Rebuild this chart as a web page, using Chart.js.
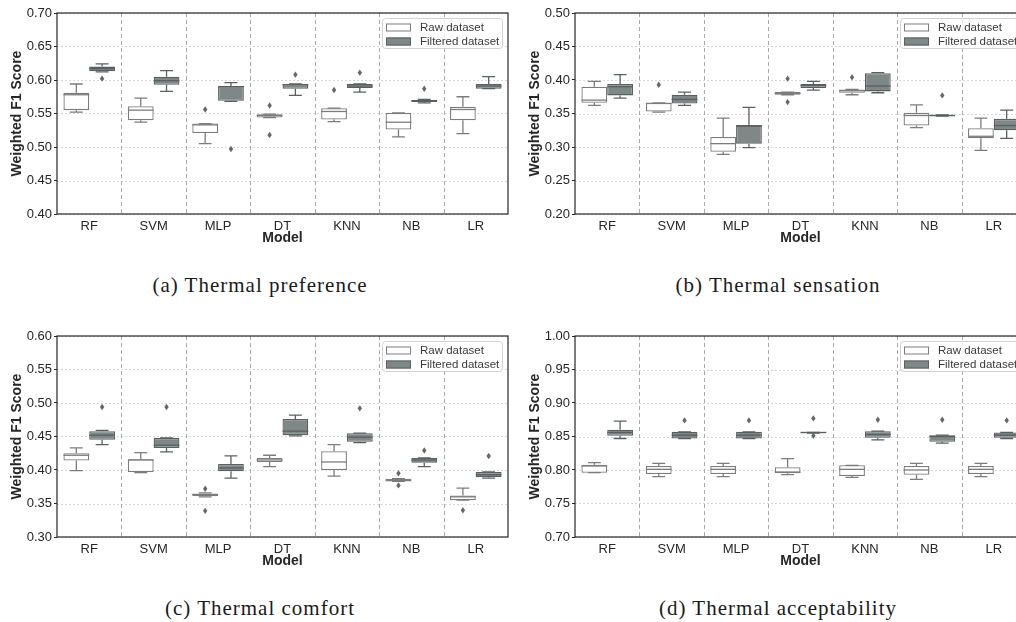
<!DOCTYPE html>
<html>
<head>
<meta charset="utf-8">
<title>Weighted F1 score by model</title>
<script src="https://cdn.jsdelivr.net/npm/chart.js@4.4.0/dist/chart.umd.min.js"></script>
<style>
  html, body { margin: 0; padding: 0; background: #fff; overflow: hidden; }
  body { width: 1016px; height: 622px; position: relative; }
  .panel { position: absolute; width: 520px; height: 250px; }
  .panel canvas { display: block; }
  .caption {
    position: absolute; width: 520px; text-align: center;
    font-family: 'Liberation Serif', 'Times New Roman', serif;
    font-size: 21px; line-height: 24px; letter-spacing: 1px; color: #1a1a1a;
  }
</style>
</head>
<body>
<div class="panel" style="left:0;top:0"><canvas id="pref" width="520" height="250"></canvas></div>
<div class="panel" style="left:518px;top:0"><canvas id="sens" width="520" height="250"></canvas></div>
<div class="panel" style="left:0;top:323px"><canvas id="comf" width="520" height="250"></canvas></div>
<div class="panel" style="left:518px;top:323px"><canvas id="acc" width="520" height="250"></canvas></div>
<div class="caption" style="left:0;top:273px">(a) Thermal preference</div>
<div class="caption" style="left:518px;top:273px">(b) Thermal sensation</div>
<div class="caption" style="left:0;top:596px">(c) Thermal comfort</div>
<div class="caption" style="left:518px;top:596px">(d) Thermal acceptability</div>
<script>
const models = ["RF", "SVM", "MLP", "DT", "KNN", "NB", "LR"];

// each box: [lower whisker, Q1, median, Q3, upper whisker]
const prefTicks = [0.40, 0.45, 0.50, 0.55, 0.60, 0.65, 0.70];
const prefRaw = [
  [0.552, 0.555, 0.578, 0.581, 0.594],
  [0.537, 0.540, 0.555, 0.561, 0.573],
  [0.505, 0.521, 0.533, 0.535, 0.535],
  [0.544, 0.544, 0.547, 0.549, 0.549],
  [0.538, 0.541, 0.553, 0.558, 0.558],
  [0.515, 0.526, 0.537, 0.551, 0.551],
  [0.520, 0.540, 0.556, 0.560, 0.575]
];
const prefRawOut = [[], [], [0.556], [0.562, 0.518], [0.585], [], []];
const prefFilt = [
  [0.612, 0.613, 0.617, 0.620, 0.624],
  [0.583, 0.593, 0.599, 0.605, 0.614],
  [0.568, 0.569, 0.590, 0.591, 0.596],
  [0.577, 0.587, 0.593, 0.594, 0.594],
  [0.582, 0.588, 0.591, 0.594, 0.594],
  [0.566, 0.567, 0.569, 0.570, 0.571],
  [0.587, 0.587, 0.591, 0.594, 0.605]
];
const prefFiltOut = [[0.602], [], [0.497], [0.608], [0.611], [0.587], []];

const sensTicks = [0.20, 0.25, 0.30, 0.35, 0.40, 0.45, 0.50];
const sensRaw = [
  [0.362, 0.366, 0.370, 0.390, 0.398],
  [0.352, 0.353, 0.365, 0.366, 0.366],
  [0.289, 0.293, 0.305, 0.315, 0.343],
  [0.378, 0.378, 0.380, 0.382, 0.382],
  [0.378, 0.381, 0.384, 0.386, 0.386],
  [0.329, 0.332, 0.347, 0.351, 0.363],
  [0.295, 0.313, 0.316, 0.328, 0.343]
];
const sensRawOut = [[], [0.393], [], [0.402, 0.367], [0.404], [], []];
const sensFilt = [
  [0.373, 0.377, 0.390, 0.394, 0.408],
  [0.362, 0.365, 0.371, 0.378, 0.382],
  [0.299, 0.305, 0.331, 0.333, 0.359],
  [0.385, 0.388, 0.392, 0.394, 0.398],
  [0.381, 0.383, 0.391, 0.410, 0.411],
  [0.346, 0.346, 0.347, 0.348, 0.348],
  [0.313, 0.325, 0.332, 0.342, 0.355]
];
const sensFiltOut = [[], [], [], [], [], [0.377], []];

const comfTicks = [0.30, 0.35, 0.40, 0.45, 0.50, 0.55, 0.60];
const comfRaw = [
  [0.399, 0.414, 0.422, 0.425, 0.433],
  [0.396, 0.397, 0.415, 0.416, 0.426],
  [0.360, 0.361, 0.363, 0.365, 0.366],
  [0.405, 0.412, 0.415, 0.418, 0.422],
  [0.391, 0.400, 0.412, 0.428, 0.438],
  [0.383, 0.383, 0.385, 0.387, 0.387],
  [0.355, 0.355, 0.360, 0.362, 0.373]
];
const comfRawOut = [[], [], [0.372, 0.339], [], [], [0.395, 0.377], [0.340]];
const comfFilt = [
  [0.438, 0.445, 0.452, 0.458, 0.459],
  [0.427, 0.433, 0.437, 0.448, 0.448],
  [0.388, 0.398, 0.403, 0.409, 0.421],
  [0.451, 0.452, 0.458, 0.476, 0.482],
  [0.441, 0.442, 0.449, 0.455, 0.455],
  [0.405, 0.411, 0.415, 0.418, 0.418],
  [0.388, 0.389, 0.393, 0.397, 0.397]
];
const comfFiltOut = [[0.494], [0.494], [], [], [0.492], [0.429], [0.421]];

const accTicks = [0.70, 0.75, 0.80, 0.85, 0.90, 0.95, 1.00];
const accRaw = [
  [0.796, 0.796, 0.806, 0.808, 0.811],
  [0.790, 0.794, 0.801, 0.806, 0.810],
  [0.790, 0.794, 0.801, 0.806, 0.810],
  [0.793, 0.795, 0.797, 0.804, 0.817],
  [0.789, 0.791, 0.801, 0.807, 0.807],
  [0.786, 0.793, 0.800, 0.806, 0.810],
  [0.790, 0.794, 0.801, 0.806, 0.810]
];
const accRawOut = [[], [], [], [], [], [], []];
const accFilt = [
  [0.847, 0.851, 0.856, 0.860, 0.873],
  [0.847, 0.847, 0.852, 0.857, 0.857],
  [0.847, 0.847, 0.852, 0.857, 0.857],
  [0.855, 0.855, 0.856, 0.856, 0.856],
  [0.845, 0.848, 0.853, 0.858, 0.858],
  [0.840, 0.842, 0.850, 0.852, 0.852],
  [0.847, 0.848, 0.852, 0.856, 0.856]
];
const accFiltOut = [[], [0.874], [0.874], [0.877, 0.851], [0.875], [0.875], [0.874]];

const rawFill = "#ffffff", rawLine = "#7c7c7c";
const filtFill = "#7f8787", filtLine = "#5a6060";
const outlierColor = "#636969";
const inkColor = "#262626";

Chart.defaults.font.family = "'Liberation Sans', Arial, sans-serif";
Chart.defaults.color = inkColor;

// whiskers, medians, outliers, grid, frame and legend on top of the floating bars
const boxParts = {
  id: "boxParts",
  beforeDatasetsDraw(chart) {
    const { ctx, chartArea: a, scales: { x, y } } = chart;
    ctx.save();
    ctx.lineWidth = 0.8;
    ctx.strokeStyle = "#cfcfcf";
    ctx.setLineDash([2, 2]);
    y.ticks.forEach(t => {
      const py = Math.round(y.getPixelForValue(t.value)) + 0.5;
      ctx.beginPath(); ctx.moveTo(a.left, py); ctx.lineTo(a.right, py); ctx.stroke();
    });
    ctx.lineWidth = 1;
    ctx.strokeStyle = "#a9a9a9";
    ctx.setLineDash([4, 3]);
    for (let k = 1; k < models.length; k++) {
      const px = Math.round((x.getPixelForValue(k - 1) + x.getPixelForValue(k)) / 2) + 0.5;
      ctx.beginPath(); ctx.moveTo(px, a.top); ctx.lineTo(px, a.bottom); ctx.stroke();
    }
    ctx.setLineDash([]);
    ctx.lineWidth = 1.3;
    chart.data.datasets.forEach((ds, i) => {
      ctx.strokeStyle = ds.borderColor;
      chart.getDatasetMeta(i).data.forEach((bar, j) => {
        const [lo, q1, , q3, hi] = ds.stats[j];
        const cap = bar.width / 4;
        ctx.beginPath();
        ctx.moveTo(bar.x, y.getPixelForValue(q3)); ctx.lineTo(bar.x, y.getPixelForValue(hi));
        ctx.moveTo(bar.x - cap, y.getPixelForValue(hi)); ctx.lineTo(bar.x + cap, y.getPixelForValue(hi));
        ctx.moveTo(bar.x, y.getPixelForValue(q1)); ctx.lineTo(bar.x, y.getPixelForValue(lo));
        ctx.moveTo(bar.x - cap, y.getPixelForValue(lo)); ctx.lineTo(bar.x + cap, y.getPixelForValue(lo));
        ctx.stroke();
      });
    });
    ctx.restore();
  },
  afterDatasetsDraw(chart) {
    const { ctx, chartArea: a, scales: { y } } = chart;
    ctx.save();
    ctx.lineWidth = 1.3;
    chart.data.datasets.forEach((ds, i) => {
      chart.getDatasetMeta(i).data.forEach((bar, j) => {
        const py = y.getPixelForValue(ds.stats[j][2]);
        ctx.strokeStyle = ds.borderColor;
        ctx.beginPath(); ctx.moveTo(bar.x - bar.width / 2, py); ctx.lineTo(bar.x + bar.width / 2, py); ctx.stroke();
        ctx.fillStyle = outlierColor;
        ds.outliers[j].forEach(v => {
          const oy = y.getPixelForValue(v);
          ctx.beginPath();
          ctx.moveTo(bar.x, oy - 3.2); ctx.lineTo(bar.x + 2.2, oy);
          ctx.lineTo(bar.x, oy + 3.2); ctx.lineTo(bar.x - 2.2, oy);
          ctx.closePath(); ctx.fill();
        });
      });
    });
    // frame
    ctx.strokeStyle = inkColor;
    ctx.lineWidth = 1.2;
    ctx.strokeRect(a.left, a.top, a.right - a.left, a.bottom - a.top);
    // legend
    const bx = a.right - 126, by = a.top + 5;
    ctx.fillStyle = "rgba(255,255,255,0.85)";
    ctx.strokeStyle = "#d2d2d2";
    ctx.lineWidth = 1;
    ctx.beginPath(); ctx.roundRect(bx + 0.5, by + 0.5, 120, 30, 3); ctx.fill(); ctx.stroke();
    ctx.font = "11.5px 'Liberation Sans', Arial, sans-serif";
    ctx.textBaseline = "middle";
    chart.data.datasets.forEach((ds, i) => {
      const ry = by + 9.5 + i * 14;
      ctx.fillStyle = ds.backgroundColor;
      ctx.fillRect(bx + 4, ry - 4, 25, 8);
      ctx.strokeStyle = ds.borderColor;
      ctx.strokeRect(bx + 4.5, ry - 3.5, 24, 7);
      ctx.fillStyle = "#3a3a3a";
      ctx.fillText(ds.label, bx + 38, ry + 0.5);
    });
    ctx.restore();
  }
};

function boxChart(id, ticks, raw, rawOut, filt, filtOut) {
  new Chart(document.getElementById(id), {
    type: "bar",
    data: {
      labels: models,
      datasets: [
        {
          label: "Raw dataset",
          data: raw.map(b => [b[1], b[3]]),
          stats: raw,
          outliers: rawOut,
          backgroundColor: rawFill,
          borderColor: rawLine,
          borderWidth: 1.3,
          borderSkipped: false
        },
        {
          label: "Filtered dataset",
          data: filt.map(b => [b[1], b[3]]),
          stats: filt,
          outliers: filtOut,
          backgroundColor: filtFill,
          borderColor: filtLine,
          borderWidth: 1.3,
          borderSkipped: false
        }
      ]
    },
    options: {
      responsive: false,
      animation: false,
      devicePixelRatio: 1,
      categoryPercentage: 0.8,
      barPercentage: 1,
      layout: { padding: { left: 0, right: 12, top: 13, bottom: 0 } },
      plugins: { legend: { display: false }, tooltip: { enabled: false } },
      scales: {
        x: {
          grid: { display: false, drawTicks: false },
          border: { display: false },
          ticks: { font: { size: 13 }, padding: 5, color: inkColor },
          title: { display: true, text: "Model", font: { size: 14, weight: "bold" }, color: inkColor, padding: { top: 0, bottom: 3 } },
          afterFit: s => { s.height = 36; }
        },
        y: {
          min: ticks[0],
          max: ticks[ticks.length - 1],
          afterBuildTicks: s => { s.ticks = ticks.map(v => ({ value: v })); },
          grid: { display: true, drawOnChartArea: false, drawTicks: true, tickLength: 3, tickColor: inkColor, tickWidth: 1 },
          border: { display: false },
          ticks: { font: { size: 13 }, padding: 2, color: inkColor, callback: v => v.toFixed(2) },
          title: { display: true, text: "Weighted F1 Score", font: { size: 14, weight: "bold" }, color: inkColor, padding: { top: 9, bottom: 0 } },
          afterFit: s => { s.width = 57; }
        }
      }
    },
    plugins: [boxParts]
  });
}

boxChart("pref", prefTicks, prefRaw, prefRawOut, prefFilt, prefFiltOut);
boxChart("sens", sensTicks, sensRaw, sensRawOut, sensFilt, sensFiltOut);
boxChart("comf", comfTicks, comfRaw, comfRawOut, comfFilt, comfFiltOut);
boxChart("acc", accTicks, accRaw, accRawOut, accFilt, accFiltOut);
</script>
</body>
</html>
